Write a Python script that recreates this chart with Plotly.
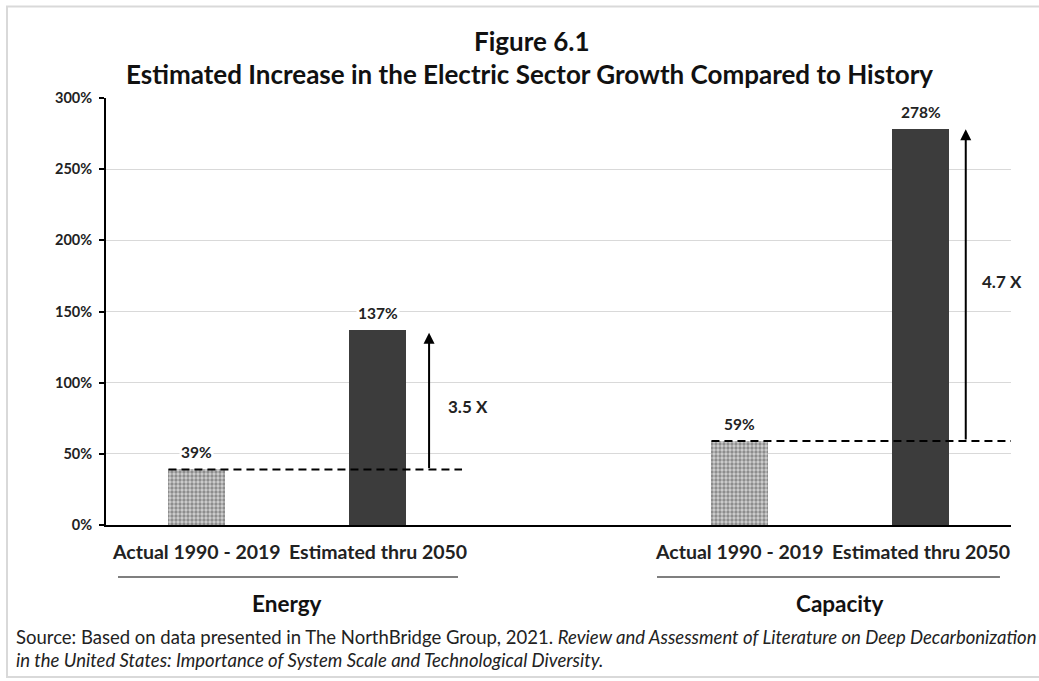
import plotly.graph_objects as go

# ---- data ----
bar_labels = ["Actual 1990 - 2019", "Estimated thru 2050", "Actual 1990 - 2019", "Estimated thru 2050"]
bar_pos = [0, 1, 3, 4]
actual_vals = [39, 59]          # Energy, Capacity (actual 1990-2019)
estimated_vals = [137, 278]     # Energy, Capacity (estimated thru 2050)
groups = ["Energy", "Capacity"]
multipliers = ["3.5 X", "4.7 X"]
y_ticks = [0, 50, 100, 150, 200, 250, 300]
y_ticktext = ["0%", "50%", "100%", "150%", "200%", "250%", "300%"]

FONT = "Lato"
DARK = "#3c3c3c"

fig = go.Figure()

# checkered bars (actual)
fig.add_trace(go.Bar(
    x=[bar_pos[0], bar_pos[2]], y=actual_vals, width=0.31,
    marker=dict(color="white", line=dict(width=0),
                pattern=dict(shape=".", fgcolor="#4a4a4a", bgcolor="#d0d0d0", size=4, solidity=0.55)),
    showlegend=False, hoverinfo="skip"))
# dark bars (estimated)
fig.add_trace(go.Bar(
    x=[bar_pos[1], bar_pos[3]], y=estimated_vals, width=0.31,
    marker=dict(color=DARK, line=dict(width=0)),
    showlegend=False, hoverinfo="skip"))

# dashed baseline lines
dash_x = [(-0.155, 1.467), (2.845, 4.505)]
for (x0, x1), v in zip(dash_x, actual_vals):
    fig.add_trace(go.Scatter(x=[x0, x1], y=[v, v], mode="lines",
                             line=dict(color="black", width=2, dash="8px,5px"),
                             showlegend=False, hoverinfo="skip", cliponaxis=False))

annotations = []
# value labels
vals_all = [actual_vals[0], estimated_vals[0], actual_vals[1], estimated_vals[1]]
for xp, v in zip(bar_pos, vals_all):
    annotations.append(dict(x=xp, y=v, xref="x", yref="y", text=f"<b>{v}%</b>",
                            showarrow=False, yshift=17, bgcolor="white",
                            font=dict(family=FONT, size=15.5, color="#222")))
# arrows
arrow_x = [1.285, 4.25]
arrow_top = [135, 278]
for ax_, base, top in zip(arrow_x, actual_vals, arrow_top):
    annotations.append(dict(x=ax_, y=top, ax=ax_, ay=base, xref="x", yref="y",
                            axref="x", ayref="y", text="", showarrow=True,
                            arrowhead=2, arrowsize=1.1, arrowwidth=2, arrowcolor="black"))
# multipliers
mult_pos = [(1.5, 83), (4.45, 171)]
for (mx, my), t in zip(mult_pos, multipliers):
    annotations.append(dict(x=mx, y=my, xref="x", yref="y", text=f"<b>{t}</b>",
                            showarrow=False, font=dict(family=FONT, size=17, color="#222")))
# category labels
for xp, t in zip(bar_pos, bar_labels):
    annotations.append(dict(x=xp, y=-26 / 427, xref="x", yref="paper", text=f"<b>{t}</b>",
                            showarrow=False, yanchor="middle",
                            font=dict(family=FONT, size=19.5, color="#222")))
# group labels
for xp, t in zip([0.5, 3.55], groups):
    annotations.append(dict(x=xp, y=-78 / 427, xref="x", yref="paper", text=f"<b>{t}</b>",
                            showarrow=False, yanchor="middle",
                            font=dict(family=FONT, size=22.5, color="#111")))
# title
annotations.append(dict(x=(532 - 106) / 905, y=(525 - 41) / 427, xref="paper", yref="paper",
                        text="<b>Figure 6.1</b>", showarrow=False, yanchor="middle",
                        font=dict(family=FONT, size=26, color="#111")))
annotations.append(dict(x=(529 - 106) / 905, y=(525 - 74) / 427, xref="paper", yref="paper",
                        text="<b>Estimated Increase in the Electric Sector Growth Compared to History</b>",
                        showarrow=False, yanchor="middle",
                        font=dict(family=FONT, size=26, color="#111")))
# source
annotations.append(dict(x=(14 - 106) / 905, y=(525 - 637) / 427, xref="paper", yref="paper",
                        xanchor="left", yanchor="middle", showarrow=False, align="left",
                        text="Source: Based on data presented in The NorthBridge Group, 2021. "
                             "<i>Review and Assessment of Literature on Deep Decarbonization</i>",
                        font=dict(family=FONT, size=18.5, color="#222")))
annotations.append(dict(x=(14 - 106) / 905, y=(525 - 660) / 427, xref="paper", yref="paper",
                        xanchor="left", yanchor="middle", showarrow=False, align="left",
                        text="<i>in the United States: Importance of System Scale and Technological Diversity.</i>",
                        font=dict(family=FONT, size=18.5, color="#222")))

shapes = []
# underlines
for x0, x1 in [(-0.434, 1.445), (2.544, 4.439)]:
    shapes.append(dict(type="line", xref="x", yref="paper", x0=x0, x1=x1,
                       y0=-52 / 427, y1=-52 / 427, line=dict(color="black", width=1.2)))
# outer frame
shapes.append(dict(type="rect", xref="paper", yref="paper",
                   x0=(7 - 106) / 905, x1=(1045 - 106) / 905,
                   y0=(525 - 677) / 427, y1=(525 - 6.5) / 427,
                   line=dict(color="#d9d9d9", width=2), layer="below"))

fig.update_layout(
    width=1039, height=681,
    margin=dict(l=106, r=28, t=98, b=156),
    paper_bgcolor="white", plot_bgcolor="white",
    barmode="overlay", bargap=0,
    xaxis=dict(range=[-0.5, 4.5], showticklabels=False, showgrid=False, zeroline=False,
               showline=True, linecolor="black", linewidth=2, ticks=""),
    yaxis=dict(range=[0, 300], tickvals=y_ticks, ticktext=[f"<b>{t}</b>" for t in y_ticktext],
               showgrid=True, gridcolor="#d9d9d9", gridwidth=1, zeroline=False,
               showline=True, linecolor="black", linewidth=2,
               ticks="outside", ticklen=5, tickwidth=2, tickcolor="black",
               tickfont=dict(family=FONT, size=14.5, color="#222"),
               ticklabelstandoff=4),
    annotations=annotations, shapes=shapes,
    font=dict(family=FONT),
)

fig.write_html("out.html")
